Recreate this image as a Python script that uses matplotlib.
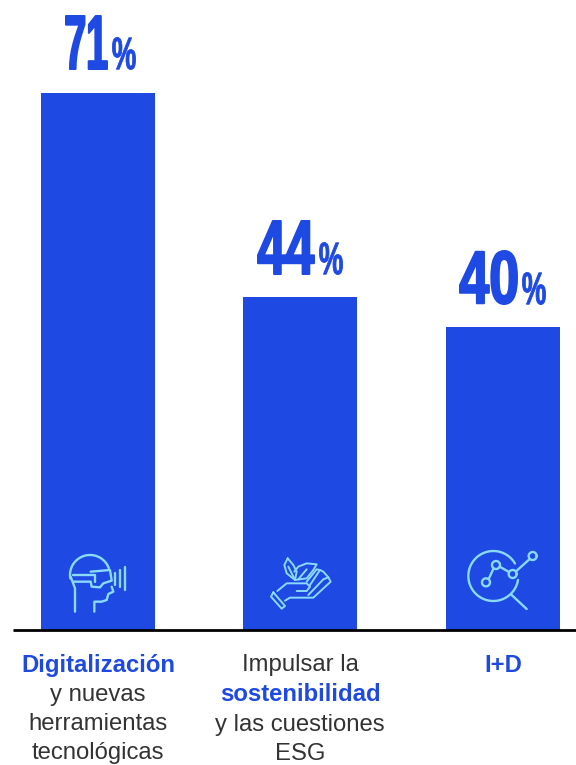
import numpy as np
import matplotlib
matplotlib.use('Agg')
import matplotlib.pyplot as plt
from matplotlib.text import Text
from matplotlib.textpath import TextPath
from matplotlib.transforms import Affine2D, Bbox

values = [71, 44, 40]
value_labels = ['71', '44', '40']
labels = [
    [('Digitalización', True), ('y nuevas', False), ('herramientas', False), ('tecnológicas', False)],
    [('Impulsar la', False), ('sostenibilidad', True), ('y las cuestiones', False), ('ESG', False)],
    [('I+D', True)],
]

BLUE = '#1e49e2'
ICON = '#8adaff'
TEXT = '#333333'


class NarrowText(Text):
    # no condensed font is installed, so fit the glyph outlines into a given ink box
    def __init__(self, x, y, s, width, height, bold_px=1.2, **kw):
        super().__init__(x, y, s, **kw)
        self.ink_width = width
        self.ink_height = height
        self.bold_px = bold_px

    def _outline(self):
        path = TextPath((0, 0), self.get_text(), prop=self.get_fontproperties())
        # closepoly vertices sit at the origin, leave them out of the ink box
        verts = path.vertices[path.codes != path.CLOSEPOLY]
        x0, y0 = verts.min(axis=0)
        x1, y1 = verts.max(axis=0)
        sx = (self.ink_width - self.bold_px) / (x1 - x0)
        sy = (self.ink_height - self.bold_px) / (y1 - y0)
        px, py = self.get_transform().transform(self.get_position())
        tr = Affine2D().translate(-x0, -y0).scale(sx, sy)
        return path, tr.translate(px + self.bold_px / 2, py + self.bold_px / 2)

    def draw(self, renderer):
        path, tr = self._outline()
        gc = renderer.new_gc()
        gc.set_linewidth(self.bold_px * 72 / self.get_figure().dpi)
        gc.set_foreground(self.get_color())
        gc.set_antialiased(True)
        renderer.draw_path(gc, path, tr, rgbFace=matplotlib.colors.to_rgba(self.get_color()))
        gc.restore()

    def get_window_extent(self, renderer=None, dpi=None):
        path, tr = self._outline()
        return Bbox(path.get_extents(tr))


fig = plt.figure(figsize=(5.76, 7.65), dpi=100)

# chart axes: value 0 sits on the baseline at pixel y=630
ax = fig.add_axes([13 / 576, 1 - 630 / 765, (576 - 13) / 576, 630 / 765])
ax.set_xlim(-0.42, 2.362)
ax.set_ylim(0, 83.3)
ax.bar(range(3), values, width=0.563, color=BLUE)
for s in ['top', 'left', 'right']:
    ax.spines[s].set_visible(False)
ax.spines['bottom'].set_linewidth(2.0)
ax.spines['bottom'].set_color('black')
ax.spines['bottom'].set_capstyle('butt')
ax.set_xticks([])
ax.set_yticks([])
ax.patch.set_alpha(0)

# overlay in pixel coordinates for the big numbers, labels and icons
ov = fig.add_axes([0, 0, 1, 1])
ov.set_xlim(0, 576)
ov.set_ylim(765, 0)
ov.axis('off')

num_left = [65, 257, 459]
num_w = [43, 58, 59]
pct_left = [112, 319, 522]
num_base = [70, 275, 305]
for i in range(3):
    # fontsize only sets the layout box here, the ink box decides the drawn size
    t = NarrowText(num_left[i], num_base[i], value_labels[i], num_w[i], 55, bold_px=2.0,
                   family='Liberation Sans', weight='bold', fontsize=30, color=BLUE,
                   transform=ov.transData)
    ov.add_artist(t)
    t = NarrowText(pct_left[i], num_base[i], '%', 24, 33, bold_px=0.8, family='Liberation Sans',
                   weight='bold', fontsize=15, color=BLUE, transform=ov.transData)
    ov.add_artist(t)

centers = [98, 300, 503]
line_y = [665.5, 694.5, 724.5, 753.5]
for c, lines in zip(centers, labels):
    for (txt, bold), y in zip(lines, line_y):
        ov.text(c, y, txt, family='Liberation Sans', fontsize=17.2,
                weight='bold' if bold else 'normal', color=BLUE if bold else TEXT,
                ha='center', va='center')


def stroke(x0, y0, pts, lw=1.7):
    p = np.array(pts, dtype=float)
    ov.plot(x0 + p[:, 0] / 3, y0 + p[:, 1] / 3, color=ICON, lw=lw,
            solid_capstyle='round', solid_joinstyle='round')


def arc(x0, y0, cx, cy, r, a0, a1, lw=1.7):
    t = np.radians(np.linspace(a0, a1, 60))
    stroke(x0, y0, np.c_[cx + r * np.cos(t), cy - r * np.sin(t)], lw)


# VR headset icon
x0, y0 = 40, 530
arc(x0, y0, 150, 135, 60, 20, 190)
stroke(x0, y0, [(92, 140), (105, 175), (105, 245)])
stroke(x0, y0, [(152, 125), (210, 120), (215, 152), (190, 160), (180, 172), (155, 170), (152, 155), (100, 155)])
stroke(x0, y0, [(98, 135), (165, 135), (165, 155)])
stroke(x0, y0, [(225, 130), (225, 165)])
stroke(x0, y0, [(240, 120), (240, 170)])
stroke(x0, y0, [(255, 112), (255, 180)])
stroke(x0, y0, [(215, 170), (220, 185), (205, 192), (200, 210), (185, 215), (163, 215), (163, 245)])

# hand and leaves icon
x0, y0 = 245, 530
stroke(x0, y0, [(85, 187), (120, 228), (110, 236), (78, 200), (85, 187)], 1.4)
stroke(x0, y0, [(97, 183), (125, 160), (185, 160), (195, 170), (185, 183), (155, 183)], 1.4)
stroke(x0, y0, [(120, 212), (135, 203), (205, 203), (257, 155), (250, 142), (235, 148), (190, 195)], 1.4)
stroke(x0, y0, [(195, 165), (225, 120), (235, 125), (250, 142)], 1.4)
stroke(x0, y0, [(185, 155), (215, 118), (225, 120)], 1.4)
stroke(x0, y0, [(128, 85), (118, 105), (125, 130), (150, 150), (155, 125), (145, 105), (128, 85)], 1.4)
stroke(x0, y0, [(130, 110), (150, 150)], 1.4)
stroke(x0, y0, [(150, 150), (185, 145), (205, 120), (215, 103), (185, 100), (160, 110), (148, 125)], 1.4)
stroke(x0, y0, [(160, 148), (185, 118)], 1.4)

# magnifier and trend icon
x0, y0 = 450, 530
arc(x0, y0, 130, 138, 75, 30, 351)
stroke(x0, y0, [(185, 195), (230, 237)])
trend_x = [108, 138, 188, 248]
trend_y = [157, 105, 132, 78]
stroke(x0, y0, [(116, 147), (130, 117)])
stroke(x0, y0, [(149, 110), (177, 126)])
stroke(x0, y0, [(198, 124), (238, 88)])
for tx, ty in zip(trend_x, trend_y):
    arc(x0, y0, tx, ty, 12, 0, 360)

fig.savefig('out.png', dpi=100)
